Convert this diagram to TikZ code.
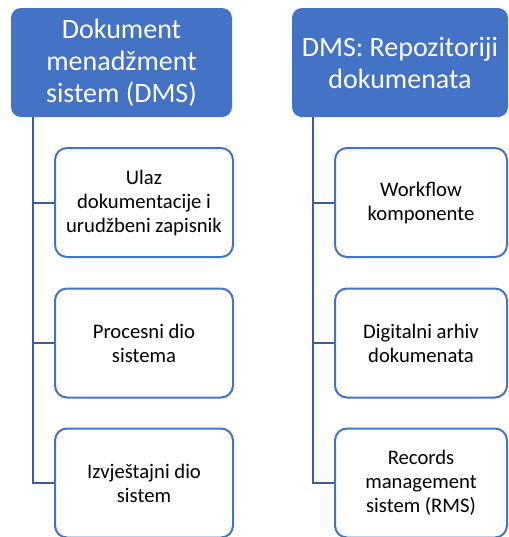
\documentclass[tikz,border=0pt]{standalone}
\usepackage{fontspec}
\setmainfont{Carlito}
\definecolor{hdr}{HTML}{4472C4}
\definecolor{conn}{HTML}{3A5DA0}
\begin{document}
\begin{tikzpicture}[x=0.75pt,y=-0.75pt,
 header/.style={fill=hdr, rounded corners=7.5pt, text=white, align=center,
   font=\fontsize{21}{24}\selectfont, inner sep=0pt},
 child/.style={draw=hdr, line width=1.5pt, fill=white, rounded corners=9pt,
   align=center, font=\fontsize{15.5}{18}\selectfont, inner sep=0pt,
   minimum height=81.75pt},
 link/.style={draw=conn, line width=1.5pt}]
\useasboundingbox (0,0) rectangle (509,537);
% headers
\node[header, minimum width=165.75pt, minimum height=81.75pt] (hl) at (121.5,62.5)
  {Dokument\\menadžment\\sistem (DMS)};
\node[header, minimum width=162pt, minimum height=81.75pt] (hr) at (400,62.5)
  {DMS: Repozitoriji\\dokumenata};
% left children
\node[child, minimum width=133.5pt] (l1) at (144,202.5) {Ulaz\\dokumentacije i\\urudžbeni zapisnik};
\node[child, minimum width=133.5pt] (l2) at (144,343) {Procesni dio\\sistema};
\node[child, minimum width=133.5pt] (l3) at (144,483) {Izvještajni dio\\sistem};
% right children
\node[child, minimum width=129pt] (r1) at (421,202.5) {Workflow\\komponente};
\node[child, minimum width=129pt] (r2) at (421,343) {Digitalni arhiv\\dokumenata};
\node[child, minimum width=129pt] (r3) at (421,483) {Records\\management\\sistem (RMS)};
% connectors
\coordinate (lt) at (33,117);
\coordinate (rt) at (313,117);
\draw[link] (lt) |- (l3.west);
\draw[link] (lt |- l1.west) -- (l1.west);
\draw[link] (lt |- l2.west) -- (l2.west);
\draw[link] (rt) |- (r3.west);
\draw[link] (rt |- r1.west) -- (r1.west);
\draw[link] (rt |- r2.west) -- (r2.west);
\end{tikzpicture}
\end{document}
